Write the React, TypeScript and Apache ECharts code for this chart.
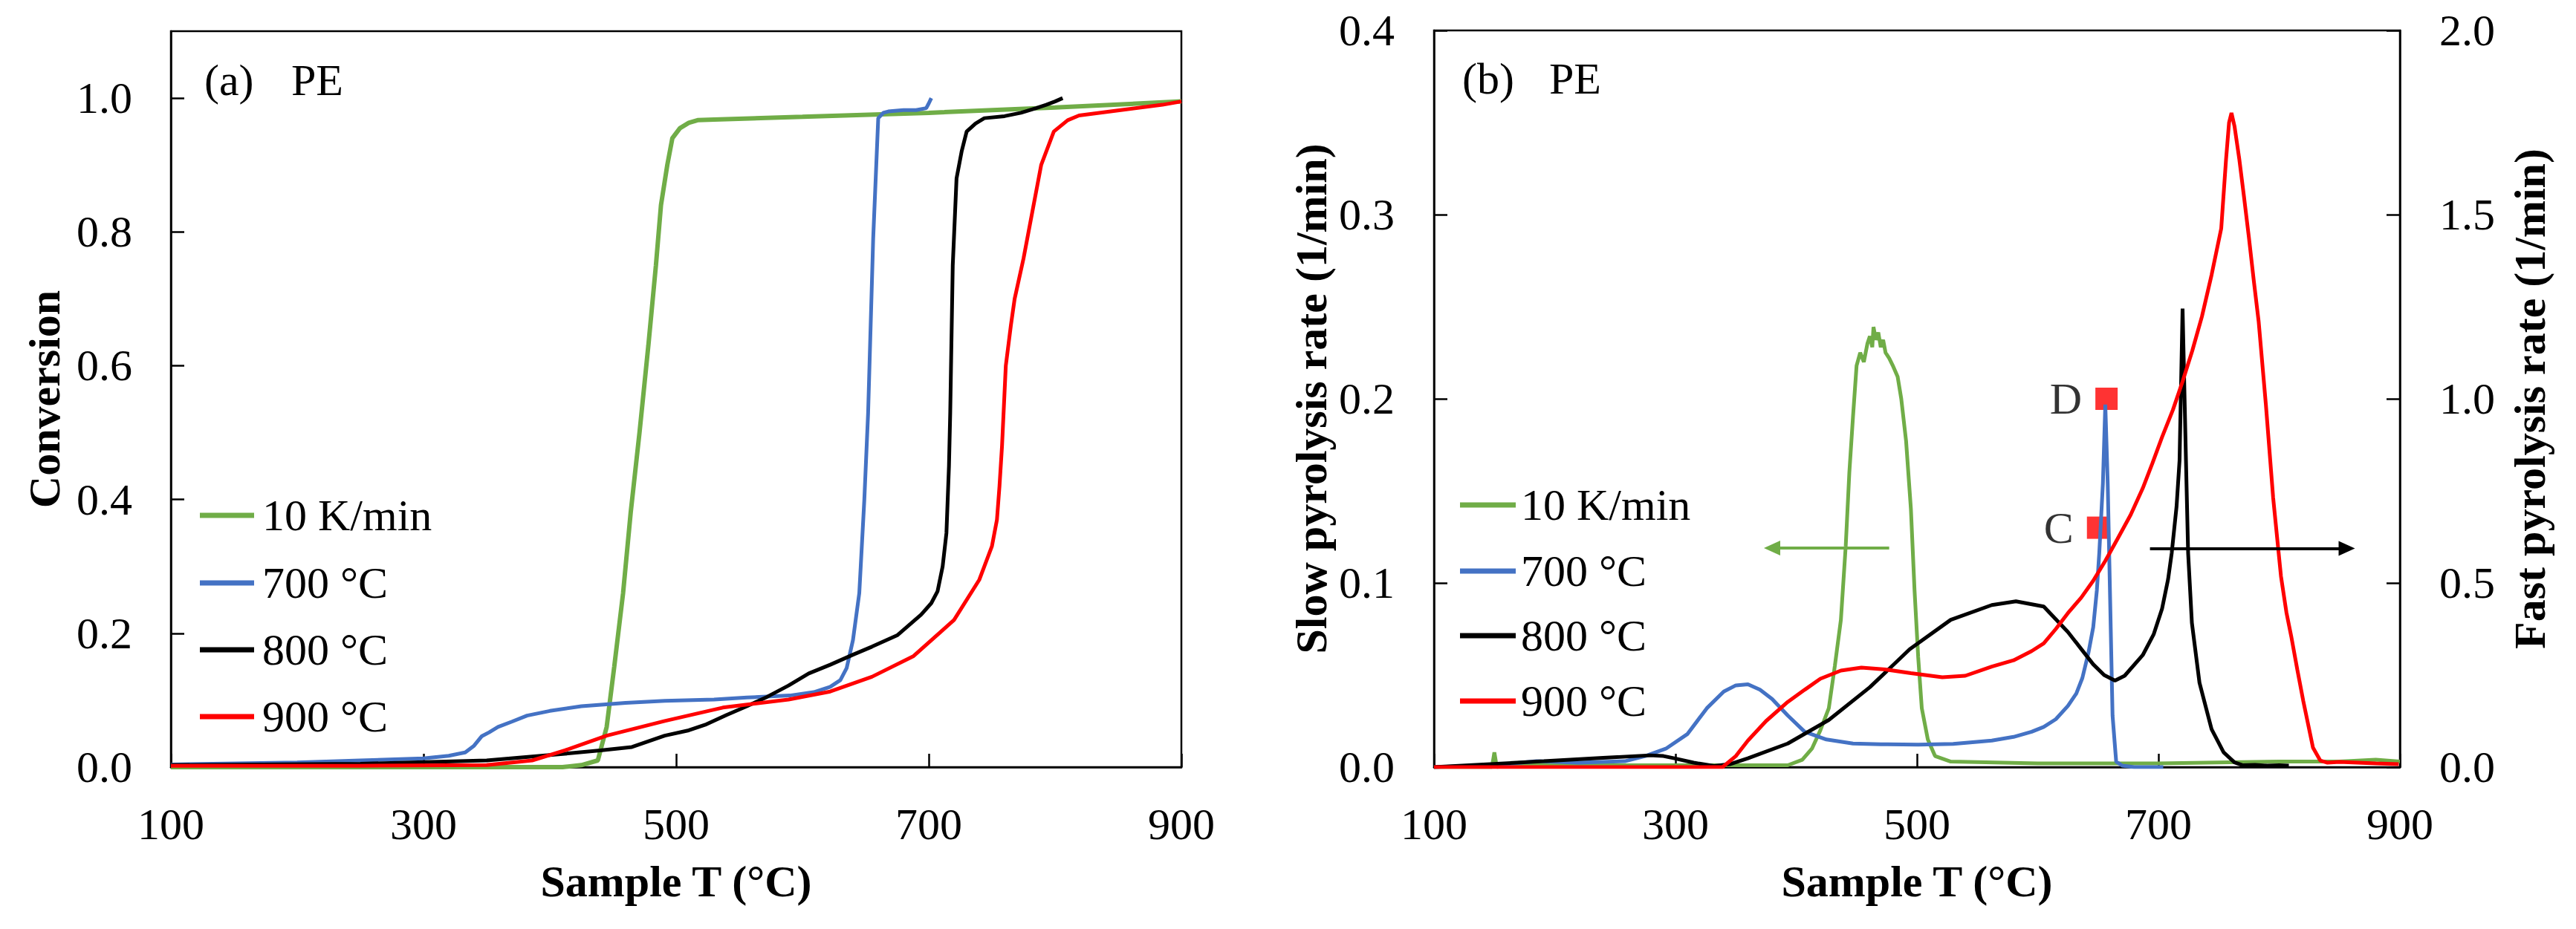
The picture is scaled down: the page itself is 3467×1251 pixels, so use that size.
import React, { useEffect, useRef } from "react";
import * as echarts from "echarts";

// ---------- Panel (a): conversion vs sample temperature ----------
const convGreenT = [100, 200, 300, 380, 410, 425, 438, 445, 451, 458, 464, 471, 478, 484, 488, 493, 497, 503, 510, 517, 530, 600, 700, 800, 900];
const convGreenY = [0.0, 0.0, 0.0, 0.0, 0.0, 0.003, 0.01, 0.06, 0.15, 0.26, 0.38, 0.5, 0.63, 0.75, 0.84, 0.9, 0.94, 0.955, 0.963, 0.967, 0.968, 0.972, 0.978, 0.986, 0.995];

const convBlueT = [100, 200, 250, 300, 320, 333, 340, 346, 352, 359, 370, 382, 400, 425, 460, 491, 530, 556, 590, 609, 622, 630, 635, 640, 645, 649, 652, 656, 660, 664, 668, 680, 690, 698, 700, 702];
const convBlueY = [0.004, 0.007, 0.01, 0.013, 0.017, 0.022, 0.032, 0.046, 0.052, 0.06, 0.068, 0.077, 0.084, 0.091, 0.096, 0.099, 0.101, 0.104, 0.107, 0.112, 0.12, 0.13, 0.148, 0.19, 0.26, 0.4, 0.53, 0.79, 0.97, 0.978, 0.98, 0.982, 0.982, 0.985, 0.992, 1.0];

const convBlackT = [100, 250, 350, 412, 440, 465, 491, 510, 524, 540, 556, 572, 589, 605, 622, 640, 655, 675, 694, 702, 707, 711, 714, 716, 717, 719, 722, 726, 730, 737, 744, 760, 773, 785, 793, 800, 806];
const convBlackY = [0.003, 0.005, 0.01, 0.02, 0.025, 0.03, 0.047, 0.055, 0.064, 0.078, 0.091, 0.105, 0.122, 0.14, 0.153, 0.168, 0.18, 0.197, 0.228, 0.245, 0.263, 0.3, 0.35, 0.45, 0.53, 0.75, 0.88, 0.92, 0.95, 0.962, 0.97, 0.973, 0.978, 0.985, 0.99, 0.995, 1.0];

const convRedT = [100, 250, 350, 386, 412, 445, 491, 537, 589, 622, 655, 688, 720, 740, 750, 754, 756, 758, 761, 765, 768, 775, 780, 789, 799, 810, 819, 852, 885, 900];
const convRedY = [0.002, 0.002, 0.003, 0.01, 0.025, 0.047, 0.069, 0.089, 0.101, 0.113, 0.135, 0.166, 0.22, 0.28, 0.33, 0.37, 0.42, 0.48, 0.6, 0.66, 0.7, 0.76, 0.81, 0.9, 0.95, 0.967, 0.974, 0.982, 0.99, 0.995];

// ---------- Panel (b): pyrolysis rates ----------
// 10 K/min on the slow-rate axis (left)
const slowGreenT = [100, 140, 148, 150, 152, 160, 250, 350, 393, 405, 413, 420, 427, 432, 437, 441, 444, 447, 450, 453, 456, 459, 461, 463, 464, 466, 468, 470, 472, 474, 477, 480, 484, 487, 491, 495, 498, 501, 504, 509, 515, 528, 600, 700, 800, 850, 880, 900];
const slowGreenY = [0.0, 0.0, 0.0, 0.008, 0.0, 0.001, 0.001, 0.001, 0.001, 0.004, 0.01, 0.02, 0.032, 0.055, 0.08, 0.12, 0.16, 0.19, 0.218, 0.225, 0.22, 0.23, 0.234, 0.228, 0.239, 0.232, 0.236, 0.228, 0.232, 0.225, 0.222, 0.218, 0.212, 0.2, 0.177, 0.14, 0.096, 0.06, 0.032, 0.015, 0.006, 0.003, 0.002, 0.002, 0.003, 0.003, 0.004, 0.003];

// 700/800/900 °C on the fast-rate axis (right)
const fastBlueT = [100, 150, 185, 220, 258, 275, 292, 310, 326, 340, 350, 360, 370, 380, 393, 407, 425, 447, 470, 501, 530, 562, 580, 595, 605, 615, 625, 632, 637, 642, 646, 649, 651, 654, 656, 658, 660, 662, 665, 670, 680, 704];
const fastBlueY = [0.0, 0.005, 0.016, 0.012, 0.016, 0.03, 0.05, 0.09, 0.16, 0.205, 0.222, 0.225, 0.21, 0.185, 0.14, 0.096, 0.075, 0.064, 0.062, 0.061, 0.063, 0.072, 0.082, 0.096, 0.109, 0.13, 0.166, 0.2, 0.242, 0.31, 0.38, 0.48, 0.581, 0.77, 0.984, 0.77, 0.455, 0.14, 0.015, 0.004, 0.0, 0.0];

const fastBlackT = [100, 191, 240, 279, 290, 299, 315, 332, 345, 360, 393, 427, 461, 494, 528, 562, 582, 605, 625, 646, 655, 664, 672, 687, 696, 703, 708, 711, 715, 717.5, 720, 722.8, 724.6, 727.7, 734, 744, 754, 763, 770, 780, 790, 800, 808];
const fastBlackY = [0.0, 0.016, 0.025, 0.032, 0.03, 0.024, 0.012, 0.003, 0.008, 0.024, 0.064, 0.128, 0.217, 0.32, 0.4, 0.44, 0.45, 0.436, 0.367, 0.279, 0.25, 0.235, 0.248, 0.304, 0.36, 0.43, 0.51, 0.581, 0.707, 0.833, 1.245, 0.833, 0.581, 0.392, 0.229, 0.103, 0.04, 0.013, 0.005, 0.006, 0.004, 0.005, 0.004];

const fastRedT = [100, 300, 339, 350, 360, 375, 393, 407, 420, 437, 454, 474, 495, 521, 540, 562, 580, 595, 605, 615, 625, 636, 646, 656, 666, 677, 687, 695, 703, 712, 720, 728, 736, 744, 752, 756, 758.5, 760.5, 763, 767, 771, 775, 779, 783, 789, 795, 801.5, 806, 810, 815, 820, 828, 834, 840, 850, 865, 880, 899];
const fastRedY = [0.0, 0.0, 0.0, 0.03, 0.072, 0.125, 0.177, 0.21, 0.24, 0.262, 0.27, 0.265, 0.255, 0.244, 0.248, 0.273, 0.29, 0.315, 0.336, 0.375, 0.418, 0.46, 0.506, 0.56, 0.619, 0.685, 0.757, 0.825, 0.896, 0.97, 1.047, 1.13, 1.223, 1.336, 1.462, 1.65, 1.75, 1.776, 1.74, 1.65, 1.545, 1.436, 1.32, 1.21, 0.984, 0.732, 0.518, 0.42, 0.355, 0.265, 0.179, 0.053, 0.018, 0.012, 0.014, 0.012, 0.01, 0.008];

// Marked points C and D (fast axis)
const markerNames = ["C", "D"];
const markerT = [650, 657];
const markerRate = [0.65, 1.0];

// Arrows: slow-axis arrow (pointing left) and fast-axis arrow (pointing right)
const slowArrowT = [477, 380];
const slowArrowY = 0.119;
const fastArrowT = [693, 856];
const fastArrowY = 0.594;

// Legend / series names and colours
const seriesNames = ["10 K/min", "700 °C", "800 °C", "900 °C"];
const seriesColors = ["#70AD47", "#4472C4", "#000000", "#FF0000"];

// Axis ticks
const tempMin = 100, tempMax = 900, tempStep = 200;
const convMin = 0, convMax = 1.1, convStep = 0.2;
const slowMin = 0, slowMax = 0.4, slowStep = 0.1;
const fastMin = 0, fastMax = 2.0, fastStep = 0.5;

const FONT = "'Liberation Serif', 'Times New Roman', serif";
const zip = (xs: number[], ys: number[]) => xs.map((x, i) => [x, ys[i]]);

export default function App() {
  const ref = useRef<HTMLDivElement>(null);
  useEffect(() => {
    if (!ref.current) return;
    const chart = echarts.init(ref.current, undefined, { renderer: "svg" });

    const axisLine = { show: true, lineStyle: { color: "#000", width: 2.5 } };
    const axisTick = { show: true, inside: true, length: 18, lineStyle: { color: "#000", width: 2.5 } };
    const labelStyle = { color: "#000", fontFamily: FONT, fontSize: 60 };
    const nameStyle = { color: "#000", fontFamily: FONT, fontSize: 60, fontWeight: "bold" as const };
    const fmt1 = (v: number) => v.toFixed(1);

    const xAxisBase = (gridIndex: number) => ({
      type: "value",
      gridIndex,
      min: tempMin,
      max: tempMax,
      interval: tempStep,
      axisLine,
      axisTick,
      splitLine: { show: false },
      axisLabel: { ...labelStyle, margin: 47 },
      name: "Sample T (°C)",
      nameLocation: "middle",
      nameGap: 124,
      nameTextStyle: nameStyle,
    });

    const lineSeries = (name: string, color: string, data: number[][], xAxisIndex: number, yAxisIndex: number, width = 5, extra: any = {}) => ({
      type: "line",
      name,
      data,
      xAxisIndex,
      yAxisIndex,
      showSymbol: false,
      symbol: "none",
      smooth: false,
      lineStyle: { color, width },
      itemStyle: { color },
      silent: true,
      ...extra,
    });

    const arrowLine = (color: string, t: number[], y: number) => ({
      silent: true,
      symbol: ["none", "triangle"],
      symbolSize: [20, 22],
      label: { show: false },
      lineStyle: { color, width: 4, type: "solid" },
      itemStyle: { color },
      data: [[{ coord: [t[0], y] }, { coord: [t[1], y] }]],
    });

    const legendGraphics = (x1: number, x2: number, tx: number, ys: number[]) =>
      ys.flatMap((y, i) => [
        { type: "line", shape: { x1, y1: y, x2, y2: y }, style: { stroke: seriesColors[i], lineWidth: 7 } },
        {
          type: "text",
          x: tx,
          y,
          style: { text: seriesNames[i], fill: "#000", fontFamily: FONT, fontSize: 60, verticalAlign: "middle", align: "left" },
        },
      ]);

    const panelText = (x: number, y: number, text: string) => ({
      type: "text",
      x,
      y,
      style: { text, fill: "#000", fontFamily: FONT, fontSize: 60, verticalAlign: "middle" },
    });

    const option: any = {
      animation: false,
      backgroundColor: "#fff",
      grid: [
        { left: 230, top: 42, width: 1360, height: 991, show: true, borderColor: "#000", borderWidth: 2.5, backgroundColor: "transparent" },
        { left: 1930, top: 41, width: 1300, height: 992, show: true, borderColor: "#000", borderWidth: 2.5, backgroundColor: "transparent" },
      ],
      xAxis: [xAxisBase(0), xAxisBase(1)],
      yAxis: [
        {
          type: "value",
          gridIndex: 0,
          min: convMin,
          max: convMax,
          interval: convStep,
          axisLine,
          axisTick,
          splitLine: { show: false },
          axisLabel: { ...labelStyle, margin: 52, formatter: fmt1, showMaxLabel: false },
          name: "Conversion",
          nameLocation: "middle",
          nameRotate: 90,
          nameGap: 140,
          nameTextStyle: nameStyle,
        },
        {
          type: "value",
          gridIndex: 1,
          position: "left",
          min: slowMin,
          max: slowMax,
          interval: slowStep,
          axisLine,
          axisTick,
          splitLine: { show: false },
          axisLabel: { ...labelStyle, margin: 53, formatter: fmt1 },
          name: "Slow pyrolysis rate (1/min)",
          nameLocation: "middle",
          nameRotate: 90,
          nameGap: 135,
          nameTextStyle: nameStyle,
        },
        {
          type: "value",
          gridIndex: 1,
          position: "right",
          min: fastMin,
          max: fastMax,
          interval: fastStep,
          axisLine,
          axisTick,
          splitLine: { show: false },
          axisLabel: { ...labelStyle, margin: 53, formatter: fmt1 },
          name: "Fast pyrolysis rate (1/min)",
          nameLocation: "middle",
          nameRotate: 90,
          nameGap: 145,
          nameTextStyle: nameStyle,
        },
      ],
      series: [
        lineSeries(seriesNames[0], seriesColors[0], zip(convGreenT, convGreenY), 0, 0, 6),
        lineSeries(seriesNames[1], seriesColors[1], zip(convBlueT, convBlueY), 0, 0),
        lineSeries(seriesNames[2], seriesColors[2], zip(convBlackT, convBlackY), 0, 0),
        lineSeries(seriesNames[3], seriesColors[3], zip(convRedT, convRedY), 0, 0),
        lineSeries(seriesNames[0], seriesColors[0], zip(slowGreenT, slowGreenY), 1, 1, 5, {
          markLine: arrowLine(seriesColors[0], slowArrowT, slowArrowY),
        }),
        lineSeries(seriesNames[1], seriesColors[1], zip(fastBlueT, fastBlueY), 1, 2),
        lineSeries(seriesNames[2], seriesColors[2], zip(fastBlackT, fastBlackY), 1, 2, 5, {
          markLine: arrowLine("#000", fastArrowT, fastArrowY),
        }),
        lineSeries(seriesNames[3], seriesColors[3], zip(fastRedT, fastRedY), 1, 2),
        {
          type: "scatter",
          xAxisIndex: 1,
          yAxisIndex: 2,
          symbol: "rect",
          symbolSize: 30,
          itemStyle: { color: "#FF0000" },
          silent: true,
          data: markerT.map((t, i) => ({ value: [t, markerRate[i]], name: markerNames[i] })),
          label: {
            show: true,
            position: "left",
            distance: 18,
            formatter: (p: any) => p.name,
            color: "#000",
            fontFamily: FONT,
            fontSize: 60,
          },
        },
      ],
      graphic: [
        panelText(275, 108, "(a)"),
        panelText(392, 108, "PE"),
        panelText(1968, 106, "(b)"),
        panelText(2085, 106, "PE"),
        ...legendGraphics(269, 342, 353, [694, 785, 875, 965]),
        ...legendGraphics(1965, 2040, 2047, [680, 769, 856, 944]),
      ],
    };

    chart.setOption(option);
    return () => chart.dispose();
  }, []);

  return <div ref={ref} style={{ position: "fixed", left: 0, top: 0, width: 3467, height: 1251, background: "#fff" }} />;
}
